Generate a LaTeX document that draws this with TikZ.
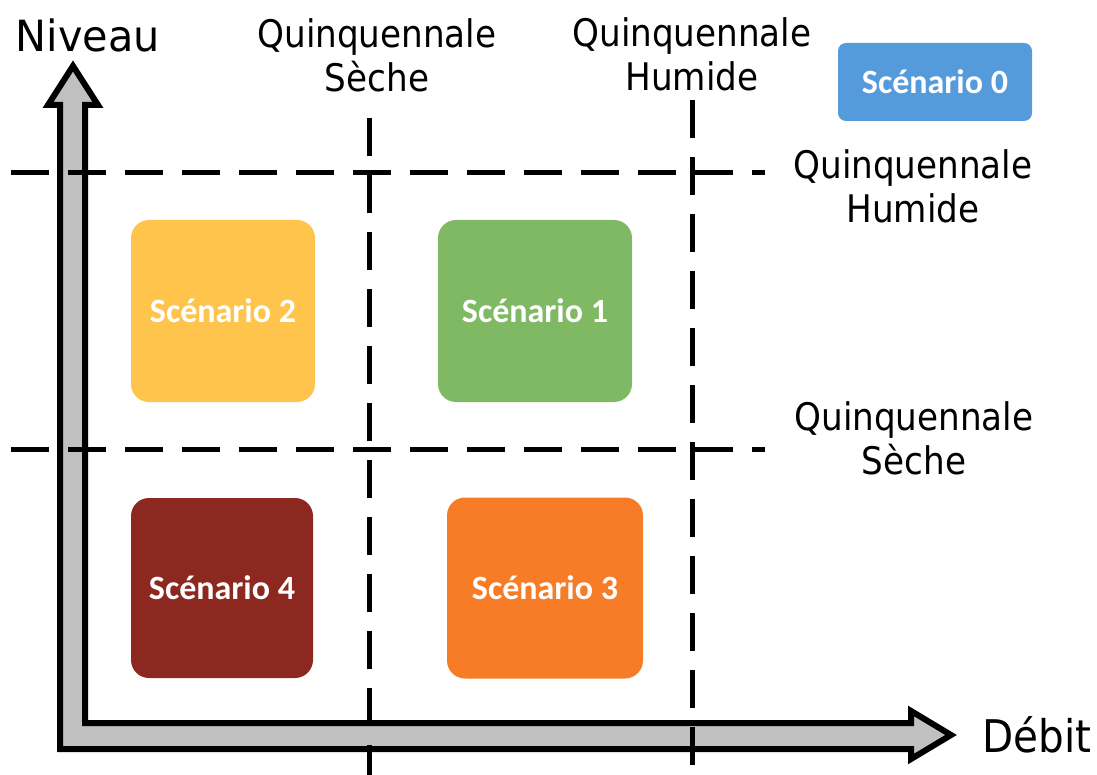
\documentclass[tikz,border=0pt]{standalone}
\usepackage{fontspec}
\setmainfont{DejaVu Sans Condensed}
\newfontfamily\boxfont{Carlito}
\definecolor{axisgray}{HTML}{C0C0C0}
\definecolor{sblue}{HTML}{559BDC}
\definecolor{sgreen}{HTML}{80B963}
\definecolor{syellow}{HTML}{FEC44C}
\definecolor{sorange}{HTML}{F67C28}
\definecolor{sred}{HTML}{8D2820}
\begin{document}
\begin{tikzpicture}[x=1pt,y=-1pt,
  scen/.style={rounded corners=18pt, inner sep=0pt, text=white,
    font=\boxfont\bfseries\fontsize{34}{40}\selectfont},
  lab/.style={align=center, inner sep=0pt, font=\fontsize{38}{44}\selectfont},
  gridline/.style={line width=5pt, dash pattern=on 38pt off 19pt},
  axisshape/.style={draw=black, fill=axisgray, line width=6pt, line join=miter}]
\useasboundingbox (0,0) rectangle (1097,775);
% axes
\draw[axisshape] (85,723) -- (85,105) -- (98,105) -- (73,66) -- (48,105) -- (60,105)
  -- (60,749) -- (911,749) -- (911,759) -- (951,735) -- (911,711) -- (911,723) -- cycle;
% dashed grid
\coordinate (h1a) at (11,173); \coordinate (h1b) at (765,173);
\coordinate (h2a) at (11,449); \coordinate (h2b) at (765,449);
\coordinate (v1a) at (369,118); \coordinate (v1b) at (369,775);
\coordinate (v2a) at (692,100); \coordinate (v2b) at (692,775);
\draw[gridline] (h1a) -- (h1b);
\draw[gridline] (h2a) -- (h2b);
\draw[gridline] (v1a) -- (v1b);
\draw[gridline] (v2a) -- (v2b);
% scenario boxes
\node[scen, fill=sblue, minimum width=194pt, minimum height=78pt, rounded corners=8pt] (s0) at (935,82) {Scénario 0};
\node[scen, fill=sgreen, minimum width=194pt, minimum height=182pt] (s1) at (535,311) {Scénario 1};
\node[scen, fill=syellow, minimum width=184pt, minimum height=182pt] (s2) at (223,311) {Scénario 2};
\node[scen, fill=sorange, minimum width=196pt, minimum height=181pt] (s3) at (545,588) {Scénario 3};
\node[scen, fill=sred, minimum width=182pt, minimum height=180pt] (s4) at (222,588) {Scénario 4};
% labels
\node[lab, anchor=base, font=\fontsize{43}{48}\selectfont] (niv) at (88,52) {\scalebox{1.07}[1]{Niveau}};
\node[lab, anchor=base, font=\fontsize{45}{50}\selectfont] (deb) at (1037,752) {Débit};
\node[lab] (qs1) at (377,55) {Quinquennale\\Sèche};
\node[lab] (qh1) at (692,54) {Quinquennale\\Humide};
\node[lab] (qh2) at (913,186) {Quinquennale\\Humide};
\node[lab] (qs2) at (914,438) {Quinquennale\\Sèche};
\end{tikzpicture}
\end{document}
